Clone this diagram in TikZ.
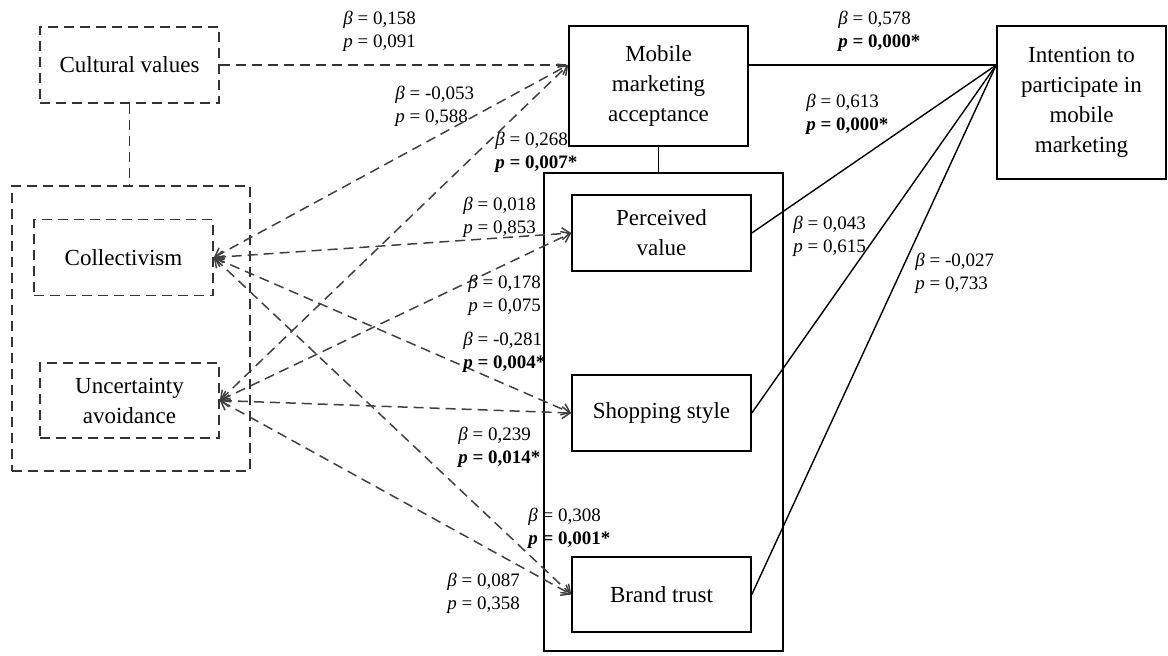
\documentclass[tikz,border=0pt]{standalone}
\usepackage{fontspec}
\setmainfont{Liberation Serif}
\usetikzlibrary{positioning,arrows.meta}
\tikzset{
  construct/.style={draw, line width=0.8pt, minimum width=89.5pt, minimum height=38pt, align=center, inner sep=2pt, font=\fontsize{11.5}{15}\selectfont},
  culture/.style={construct, draw=black!80, dash pattern=on 5pt off 3pt},
  groupbox/.style={draw, line width=0.8pt},
  corr/.style={<->, draw=black!75, line width=0.75pt, dash pattern=on 5pt off 3pt},
  dimlink/.style={draw=black!80, line width=0.8pt, dash pattern=on 5pt off 3pt},
  link/.style={line width=0.7pt},
  coef/.style={anchor=west, align=left, inner sep=0pt, font=\fontsize{9.5}{11.5}\selectfont}
}
\newcommand{\bet}[1]{\textit{β} = #1}
\newcommand{\pv}[1]{\textit{p} = #1}
\newcommand{\pvsig}[1]{\textbf{\textit{p} = #1}}

\begin{document}
\begin{tikzpicture}[x=0.5pt, y=-0.5pt, >={Straight Barb[length=4pt,width=6pt]}]
  \useasboundingbox (0,0) rectangle (1168,655);
  % cultural dimensions
  \node[culture] (cv) at (129.5,65) {Cultural values};
  \node[groupbox, draw=black!80, dash pattern=on 5pt off 3pt, minimum width=119pt, minimum height=142.5pt] (cult) at (131,328.5) {};
  \node[culture] (col) at (123.5,257.5) {Collectivism};
  \node[culture, minimum height=37.5pt] (ua) at (129.5,400.5) {Uncertainty\\avoidance};
  % acceptance, its components and intention
  \node[construct, minimum height=60pt] (mma) at (658.5,86) {Mobile\\marketing\\acceptance};
  \node[construct, minimum width=84.5pt, minimum height=76.5pt] (itp) at (1081.5,102.5) {Intention to\\participate in\\mobile\\marketing};
  \node[groupbox, minimum width=119.5pt, minimum height=239pt] (mmbox) at (663.5,412) {};
  \node[construct] (pv) at (661.5,233) {Perceived\\value};
  \node[construct] (ss) at (661.5,413) {Shopping style};
  \node[construct, minimum height=37.5pt] (bt) at (661.5,594.5) {Brand trust};
  \coordinate (mmin) at (mma.west |- cv.east);
  \coordinate (hub) at (itp.west |- cv.east);

  \draw[dimlink] (cv.south) -- (cv.south |- cult.north);
  \draw[dimlink] (cv) -- (mmin);
  \draw[corr] (col.east) -- (mmin);
  \draw[corr] (ua.east) -- (mmin);
  \draw[corr] (col.east) -- (pv.west);
  \draw[corr] (ua.east) -- (pv.west);
  \draw[corr] (col.east) -- (ss.west);
  \draw[corr] (ua.east) -- (ss.west);
  \draw[corr] (col.east) -- (bt.west);
  \draw[corr] (ua.east) -- (bt.west);

  \draw[link] (mma.south) -- (mma.south |- mmbox.north);
  \draw[link] (mma.east |- hub) -- (hub);
  \draw[link] (pv.east) -- (hub);
  \draw[link] (ss.east) -- (hub);
  \draw[link] (bt.east) -- (hub);

  % path coefficients
  \node[coef] (c1) at (343,31.5) {\bet{0,158}\\\pv{0,091}};
  \node[coef] (c2) at (395,106) {\bet{-0,053}\\\pv{0,588}};
  \node[coef] (c3) at (495,152.5) {\bet{0,268}\\\pvsig{0,007*}};
  \node[coef] (c4) at (463,217.5) {\bet{0,018}\\\pv{0,853}};
  \node[coef] (c5) at (468,295) {\bet{0,178}\\\pv{0,075}};
  \node[coef] (c6) at (463,352) {\bet{-0,281}\\\pvsig{0,004*}};
  \node[coef] (c7) at (458,447.5) {\bet{0,239}\\\pvsig{0,014*}};
  \node[coef] (c8) at (528,528.5) {\bet{0,308}\\\pvsig{0,001*}};
  \node[coef] (c9) at (447,593) {\bet{0,087}\\\pv{0,358}};
  \node[coef] (c10) at (838,31.5) {\bet{0,578}\\\pvsig{0,000*}};
  \node[coef] (c11) at (806,114.5) {\bet{0,613}\\\pvsig{0,000*}};
  \node[coef] (c12) at (793,236.5) {\bet{0,043}\\\pv{0,615}};
  \node[coef] (c13) at (915,273.5) {\bet{-0,027}\\\pv{0,733}};
\end{tikzpicture}
\end{document}
